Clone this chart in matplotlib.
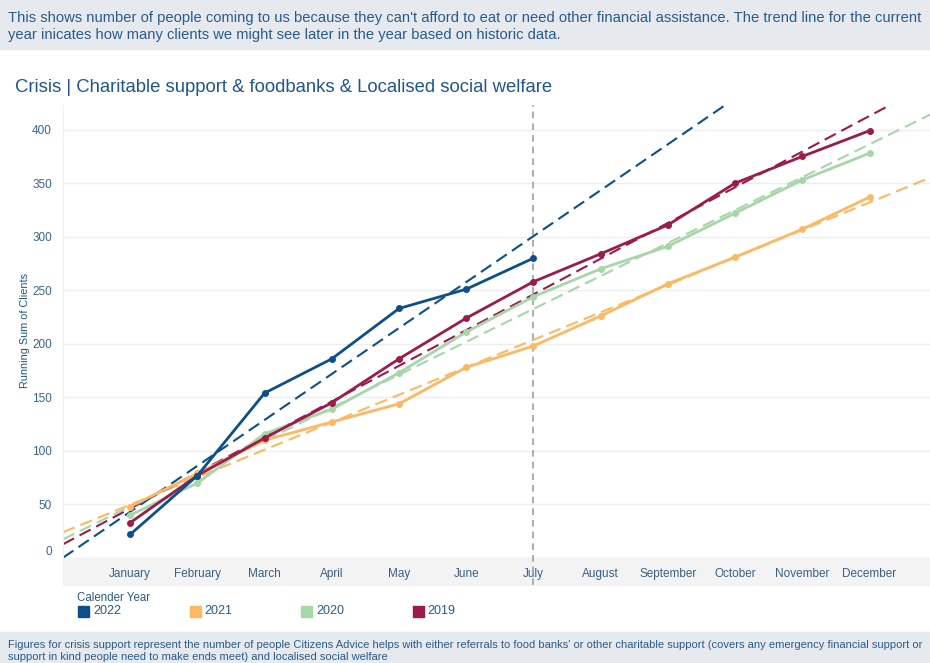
import numpy as np
import matplotlib.pyplot as plt
from matplotlib.patches import Rectangle

plt.rcParams['font.family'] = ['Liberation Sans', 'DejaVu Sans']

months = ["January", "February", "March", "April", "May", "June", "July",
          "August", "September", "October", "November", "December"]

years = ["2022", "2021", "2020", "2019"]
colors = {"2022": "#0C4F8B", "2021": "#FDB863", "2020": "#A7D6A9", "2019": "#9B1B4A"}

# running sum of clients per month
clients_2022 = [22, 77, 154, 186, 233, 251, 280]
clients_2021 = [48, 79, 110, 127, 144, 178, 198, 226, 256, 281, 307, 337]
clients_2020 = [40, 70, 116, 139, 173, 211, 244, 270, 291, 322, 353, 378]
clients_2019 = [33, 77, 112, 145, 186, 224, 258, 284, 311, 350, 375, 399]

series = {"2022": clients_2022, "2021": clients_2021,
          "2020": clients_2020, "2019": clients_2019}

yticks = [0, 50, 100, 150, 200, 250, 300, 350, 400]

text_col = "#2A5A8C"
box_col = "#E6EAEF"

fig = plt.figure(figsize=(9.3, 6.63), dpi=100)
ax = fig.add_axes([63 / 930, 1 - 558 / 663, 867 / 930, 453 / 663])

# header / footer boxes
fig.patches.append(Rectangle((0, 1 - 49 / 663), 1, 49 / 663, transform=fig.transFigure,
                             color=box_col, zorder=0))
fig.patches.append(Rectangle((0, 0), 1, 31 / 663, transform=fig.transFigure,
                             color=box_col, zorder=0))
# shaded band behind the month labels
ax.add_patch(Rectangle((0, -27 / 453), 1, 27 / 453, transform=ax.transAxes,
                       color="#F3F3F3", clip_on=False, zorder=0))

fig.text(8 / 930, 1 - 18 / 663,
         "This shows number of people coming to us because they can't afford to eat or need other "
         "financial assistance. The trend line for the current",
         fontsize=10.6, color=text_col, va="center")
fig.text(8 / 930, 1 - 35 / 663,
         "year inicates how many clients we might see later in the year based on historic data.",
         fontsize=10.6, color=text_col, va="center")

fig.text(15 / 930, 1 - 88 / 663,
         "Crisis | Charitable support & foodbanks & Localised social welfare",
         fontsize=13.3, color="#1F5591", va="center")

fig.text(8 / 930, 1 - 645 / 663,
         "Figures for crisis support represent the number of people Citizens Advice helps with either "
         "referrals to food banks' or other charitable support (covers any emergency financial support or",
         fontsize=8, color=text_col, va="center")
fig.text(8 / 930, 1 - 657 / 663,
         "support in kind people need to make ends meet) and localised social welfare",
         fontsize=8, color=text_col, va="center")

x_all = np.arange(len(months))
x_fit = np.array([-1.0, 12.0])

# trend lines first, then the actual values on top
for year in ["2021", "2020", "2019", "2022"]:
    vals = series[year]
    xs = x_all[:len(vals)]
    k, b = np.polyfit(xs, vals, 1)
    ax.plot(x_fit, k * x_fit + b, color=colors[year], linestyle=(0, (6, 3)),
            linewidth=1.5, zorder=2)

for year in ["2021", "2020", "2019", "2022"]:
    vals = series[year]
    xs = x_all[:len(vals)]
    ax.plot(xs, vals, color=colors[year], linewidth=2, marker="o", markersize=4, zorder=3)

ax.axvline(6, ymin=-0.06, ymax=1, color="#A0A0A0", linestyle=(0, (4, 3)),
           linewidth=1.2, clip_on=False, zorder=1)

ax.set_xlim(-1, 11.9)
ax.set_ylim(0, 423)
ax.set_yticks(yticks)
ax.set_yticklabels([str(v) for v in yticks], fontsize=8.5, color="#3A6593")
ax.get_yticklabels()[0].set_va("bottom")
ax.set_xticks(x_all)
ax.set_xticklabels(months, fontsize=8.5, color="#3A5F86")
ax.tick_params(axis="both", length=0)
ax.tick_params(axis="y", pad=8)
ax.tick_params(axis="x", pad=7)
ax.grid(axis="y", color="#EEEEEE", linewidth=1)
ax.set_axisbelow(True)
for side in ["top", "right", "bottom"]:
    ax.spines[side].set_visible(False)
ax.spines["left"].set_color("#F0F0F0")
ax.patch.set_alpha(0)

fig.text(25 / 930, 1 - 331 / 663, "Running Sum of Clients", rotation=90,
         fontsize=7.8, color="#1F5591", ha="center", va="center")

# legend
fig.text(77 / 930, 1 - 598 / 663, "Calender Year", fontsize=8.3, color=text_col, va="center")
for i, year in enumerate(years):
    x0 = (78 + i * 111.5) / 930
    fig.patches.append(Rectangle((x0, 1 - 617 / 663), 11 / 930, 11 / 663,
                                 transform=fig.transFigure, color=colors[year]))
    fig.text(x0 + 15 / 930, 1 - 611.5 / 663, year, fontsize=9, color=text_col, va="center")

fig.savefig("out.png", dpi=100)
